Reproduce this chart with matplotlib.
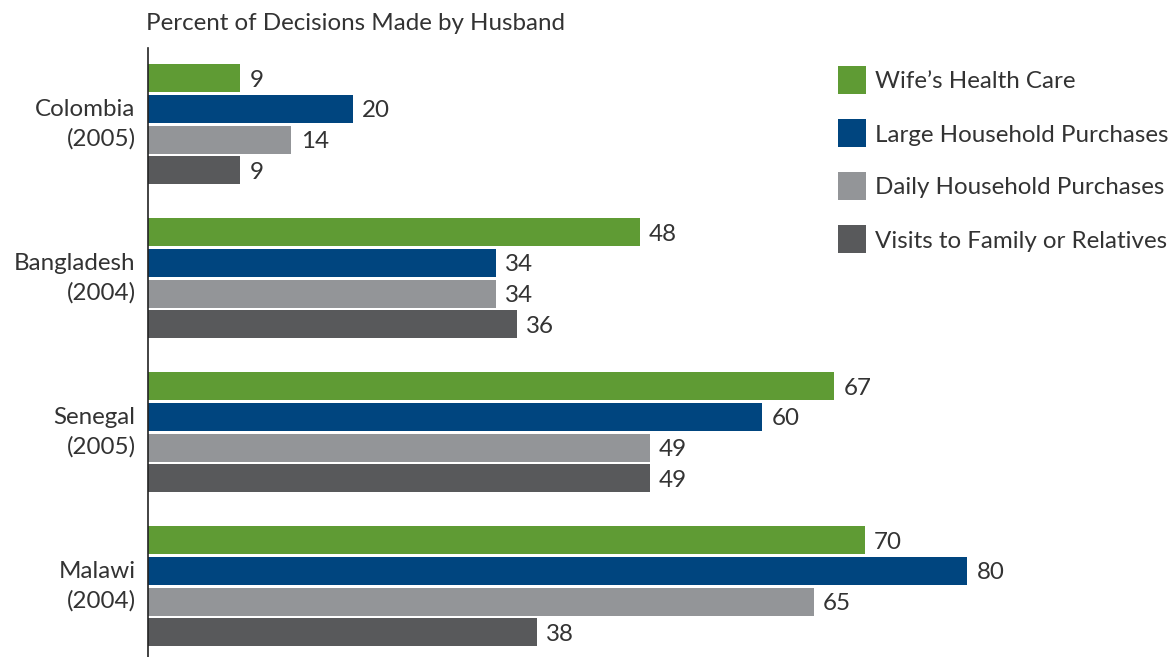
import matplotlib
matplotlib.use("Agg")
import matplotlib.pyplot as plt
from matplotlib.patches import Rectangle

countries = ["Colombia\n(2005)", "Bangladesh\n(2004)", "Senegal\n(2005)", "Malawi\n(2004)"]
series = ["Wife\u2019s Health Care", "Large Household Purchases",
          "Daily Household Purchases", "Visits to Family or Relatives"]
wife_health = [9, 48, 67, 70]
large_purchases = [20, 34, 60, 80]
daily_purchases = [14, 34, 49, 65]
visits_family = [9, 36, 49, 38]
colors = ["#5f9b34", "#00457f", "#939598", "#58595b"]
title = "Percent of Decisions Made by Husband"

values = [wife_health, large_purchases, daily_purchases, visits_family]

W, H = 1175, 657
plt.rcParams['font.family'] = ['Lato', 'DejaVu Sans']
fig = plt.figure(figsize=(W / 100, H / 100), dpi=100)

def fx(px):
    return px / W

def fy(py):
    return 1 - py / H

ax_left, ax_top, ax_bottom = 148, 48, 657
ax = fig.add_axes([fx(ax_left), 0, fx(W - ax_left), (ax_bottom - ax_top) / H])
px_per_unit_x = 10.24
ax.set_xlim(0, (W - ax_left) / px_per_unit_x)
unit_y = 30.8
ax.set_ylim((ax_bottom - 78) / unit_y, -(78 - ax_top) / unit_y)

group_pitch = 5
txt_color = "#333333"
fs = 17.4
for s, (vals, col) in enumerate(zip(values, colors)):
    ys = [g * group_pitch + s for g in range(len(countries))]
    ax.barh(ys, vals, height=0.91, color=col, edgecolor="none")
    for y, v in zip(ys, vals):
        ax.text(v + 0.9, y + 0.07, f"{v}", va="center", ha="left", fontsize=fs,
                color=txt_color)

ax.set_yticks([g * group_pitch + 1.5 for g in range(len(countries))])
ax.set_yticklabels(countries, fontsize=fs, color=txt_color, linespacing=1.42,
                   ha="right", va="center")
ax.tick_params(axis="y", length=0, pad=9)
ax.set_xticks([])
for sp in ["top", "right", "bottom"]:
    ax.spines[sp].set_visible(False)
ax.spines["left"].set_color("#222222")
ax.spines["left"].set_linewidth(1.2)

fig.text(fx(146), fy(24), title, fontsize=fs, color=txt_color, ha="left",
         va="center")

# legend
leg_x, leg_y0, leg_pitch, sq = 838, 66, 53, 28
for i, (name, col) in enumerate(zip(series, colors)):
    top = leg_y0 + i * leg_pitch
    fig.add_artist(Rectangle((fx(leg_x), fy(top + sq)), sq / W, sq / H,
                             transform=fig.transFigure, color=col, lw=0))
    fig.text(fx(875), fy(top + sq / 2 + 2), name, fontsize=fs, color=txt_color,
             ha="left", va="center")

fig.savefig("out.png", dpi=100)
